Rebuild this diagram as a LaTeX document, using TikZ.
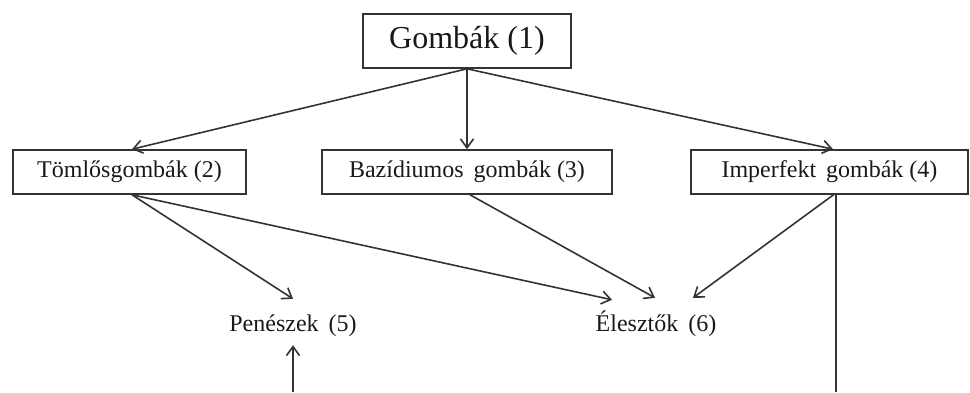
\documentclass[tikz,border=0pt]{standalone}
\usepackage{fontspec}
\setmainfont{Liberation Serif}
\usetikzlibrary{arrows.meta}
\begin{document}
\begin{tikzpicture}[x=1pt,y=-1pt,
  ink/.style={draw=black!80, line width=1.6pt},
  catbox/.style={ink, rectangle, inner sep=0pt, font=\fontsize{24}{28}\selectfont, text=black!90},
  topbox/.style={catbox, font=\fontsize{32}{36}\selectfont},
  plain/.style={inner sep=0pt, text height=17pt, text depth=5pt, font=\fontsize{24}{28}\selectfont, text=black!90},
  link/.style={ink, -{Straight Barb[length=9pt,width=13pt,line width=1.6pt]}},
  wire/.style={ink}
]
\useasboundingbox (0,0) rectangle (970,392);
\node[topbox, minimum width=208pt, minimum height=54pt] (g1) at (467,41) {Gombák (1)};
\node[catbox, minimum width=233pt, minimum height=44pt] (t2) at (129.5,172) {Tömlősgombák (2)};
\node[catbox, minimum width=290pt, minimum height=44pt] (b3) at (467,172) {Bazídiumos\ \,gombák (3)};
\node[catbox, minimum width=277pt, minimum height=44pt] (i4) at (829.5,172) {Imperfekt\ \,gombák (4)};
\node[plain] (p5) at (293,325.5) {Penészek\ \,(5)};
\node[plain] (e6) at (656,325.5) {Élesztők\ \,(6)};
\coordinate (p5low) at (293,392);
\coordinate (i4low) at (836,392);

\draw[link] (g1.south) -- ([xshift=2.5pt]t2.north);
\draw[link] (g1.south) -- (b3.north);
\draw[link] (g1.south) -- ([xshift=3.5pt]i4.north);

\draw[link] ([xshift=2.5pt]t2.south) -- ([yshift=15.5pt]p5.north);
\draw[link] ([xshift=2.5pt]t2.south) -- ([xshift=-44pt,yshift=14.5pt]e6.north);
\draw[link] ([xshift=3pt]b3.south) -- ([xshift=-1pt,yshift=16.5pt]e6.north);
\draw[link] ([xshift=4pt]i4.south) -- ([xshift=37pt,yshift=16.5pt]e6.north);
\draw[wire] ([xshift=6.5pt]i4.south) -- (i4low);
\draw[link] (p5low) -- ([yshift=-8.5pt]p5.south);
\end{tikzpicture}
\end{document}
